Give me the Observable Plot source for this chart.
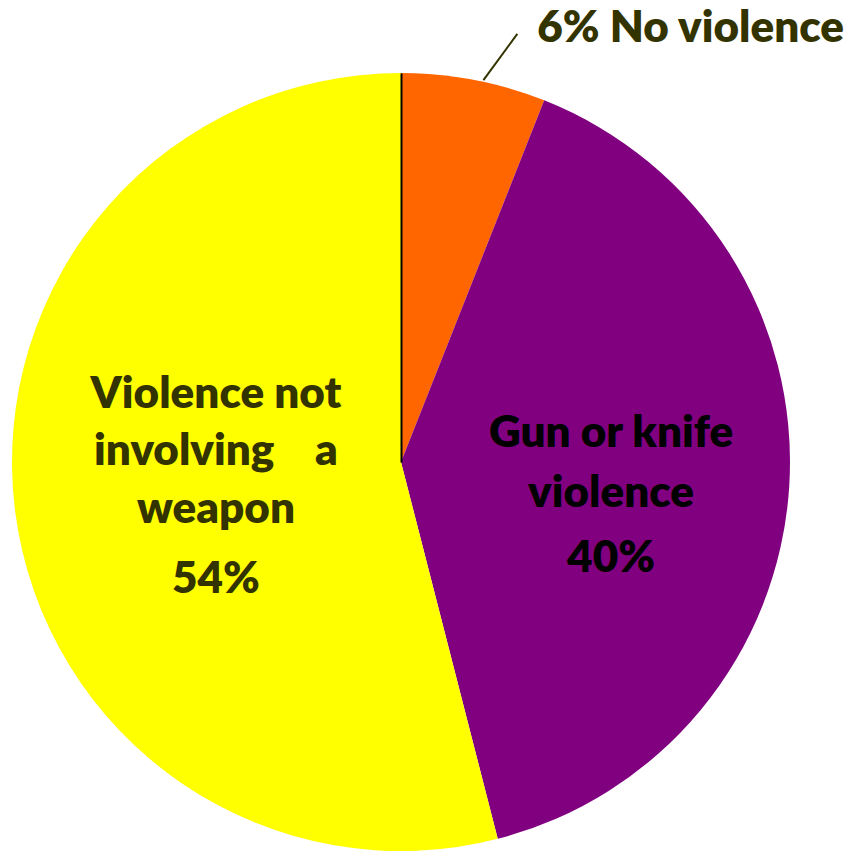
<!DOCTYPE html>
<html>
<head>
<meta charset="utf-8">
<script src="https://cdn.jsdelivr.net/npm/d3@7"></script>
<script src="https://cdn.jsdelivr.net/npm/@observablehq/plot@0.6"></script>
<style>
  html, body { margin: 0; padding: 0; background: #fff; }
  #chart svg { display: block; }
</style>
</head>
<body>
<div id="chart"></div>
<script>
const categories = ["No violence", "Gun or knife violence", "Violence not involving a weapon"];
const shares = [6, 40, 54];
const colors = ["#FF6600", "#800080", "#FFFF00"];
const labelLines = [
  ["6% No violence"],
  ["Gun or knife", "violence", "40%"],
  ["Violence not", "involving    a", "weapon", "54%"]
];

const W = 846, H = 858;
const cx = 401, cy = 462, R = 389;

const rows = categories.map((c, i) => ({category: c, share: shares[i], color: colors[i]}));
const arcs = d3.pie().sort(null).value(d => d.share)(rows);
const arcGen = d3.arc().innerRadius(0).outerRadius(R);

// label line layout (dy offsets relative to the label anchor)
const lineOffsets = [
  [0],
  [-62, -2, 63],
  [-92, -35, 23, 93]
];
const labelRadius = [0, 212, 187];
const labelAngleShift = [0, 0.09, 0];
const textColors = ["#333300", "#000000", "#333300"];

const textRows = [];
arcs.forEach((a, i) => {
  if (i === 0) return;
  const mid = (a.startAngle + a.endAngle) / 2 + labelAngleShift[i];
  const lx = cx + labelRadius[i] * Math.sin(mid);
  const ly = cy - labelRadius[i] * Math.cos(mid);
  labelLines[i].forEach((t, j) => {
    textRows.push({x: lx, y: ly + lineOffsets[i][j], text: t, color: textColors[i]});
  });
});

// outside label for the small slice
const a0 = arcs[0];
const leadAng1 = a0.startAngle + (a0.endAngle - a0.startAngle) * 0.56;
const leadAng2 = a0.startAngle + (a0.endAngle - a0.startAngle) * 0.70;
const lead = [{
  x1: cx + (R + 2) * Math.sin(leadAng1), y1: cy - (R + 2) * Math.cos(leadAng1),
  x2: cx + (R + 55) * Math.sin(leadAng2), y2: cy - (R + 55) * Math.cos(leadAng2)
}];
const outside = [{x: lead[0].x2 + 20, y: 27, text: labelLines[0][0]}];

const pieMark = (index, scales, values, dimensions) => {
  const g = d3.create("svg:g");
  const px = scales.x(cx), py = scales.y(cy);
  g.attr("transform", `translate(${px},${py})`);
  g.selectAll("path").data(arcs).join("path")
    .attr("d", arcGen)
    .attr("fill", d => d.data.color);
  return g.node();
};

const chart = Plot.plot({
  width: W,
  height: H,
  margin: 0,
  x: {domain: [0, W], range: [0, W], axis: null},
  y: {domain: [0, H], range: [0, H], axis: null},
  style: {background: "#fff"},
  marks: [
    pieMark,
    Plot.link([{x1: cx, y1: cy, x2: cx, y2: cy - R}], {x1: "x1", y1: "y1", x2: "x2", y2: "y2", stroke: "#000", strokeWidth: 2}),
    Plot.link(lead, {x1: "x1", y1: "y1", x2: "x2", y2: "y2", stroke: "#333300", strokeWidth: 2}),
    Plot.text(textRows, {x: "x", y: "y", text: "text", fill: "color", fontSize: 44, fontWeight: 800, fontFamily: "Lato", textAnchor: "middle", lineAnchor: "middle"}),
    Plot.text(outside, {x: "x", y: "y", text: "text", fill: "#333300", fontSize: 44, fontWeight: 800, fontFamily: "Lato", textAnchor: "start", lineAnchor: "middle"})
  ]
});
chart.querySelectorAll("text").forEach(t => t.setAttribute("xml:space", "preserve"));
chart.querySelectorAll("text").forEach(t => t.style.whiteSpace = "pre");
document.getElementById("chart").append(chart);
</script>
</body>
</html>
